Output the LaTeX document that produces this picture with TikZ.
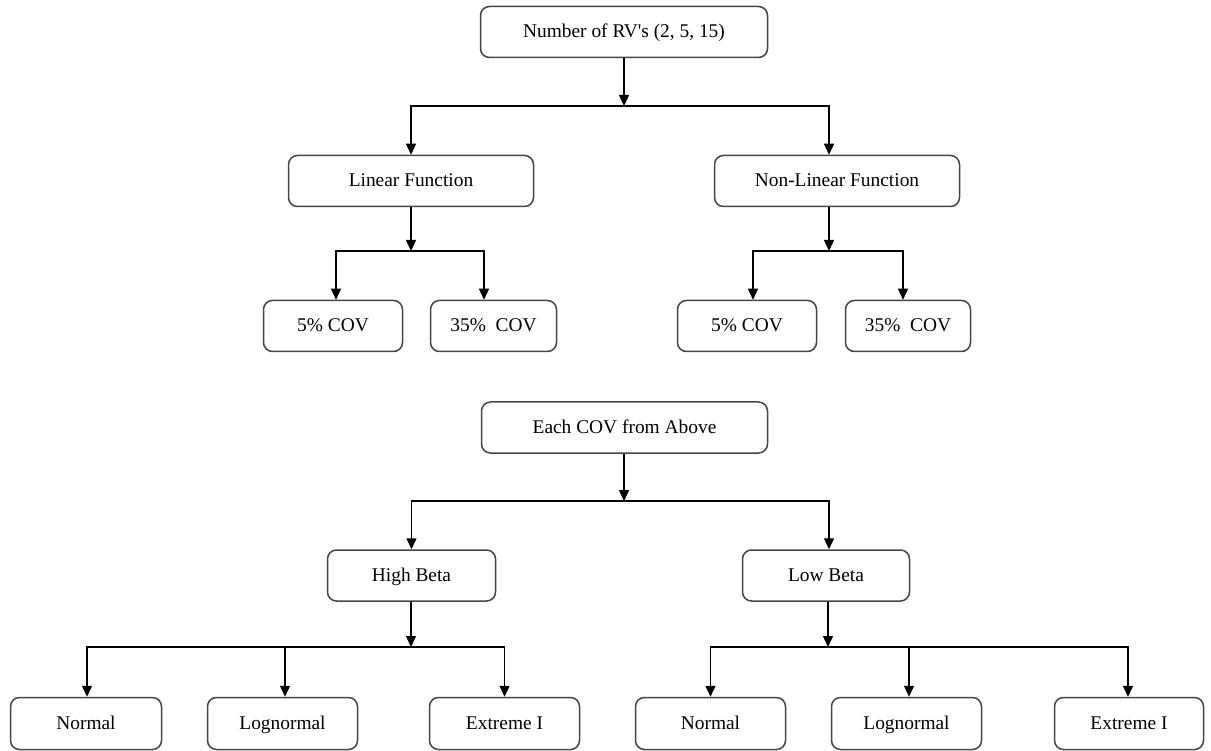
\documentclass[tikz,border=0pt]{standalone}
\usepackage{fontspec}
\setmainfont{Liberation Serif}
\usetikzlibrary{arrows.meta}
\definecolor{boxc}{RGB}{70,70,70}
\begin{document}
\begin{tikzpicture}[x=1pt,y=-1pt,
  box/.style={draw=boxc, line width=1.5pt, rounded corners=9pt, inner sep=0pt,
    minimum height=51pt, text height=13pt, text depth=1pt,
    font=\fontsize{19.4}{23}\selectfont, text=black},
  conn/.style={line width=1.4pt, draw=black},
  arr/.style={conn, -{Triangle[length=11pt,width=10pt]}}]
\useasboundingbox (0,0) rectangle (1211,751);

% level 1
\node[box, minimum width=287pt, minimum height=51pt] (top) at (624,32) {Number of RV\textquotesingle s (2, 5, 15)};
\node[box, minimum width=245pt] (lin) at (411,181) {Linear Function};
\node[box, minimum width=245pt] (nl) at (837,181) {Non-Linear Function};
\node[box, minimum width=139pt] (c1) at (333,326) {5\% COV};
\node[box, minimum width=126pt] (c2) at (493.5,326) {35\%\ \ COV};
\node[box, minimum width=139pt] (c3) at (747,326) {5\% COV};
\node[box, minimum width=125pt] (c4) at (908,326) {35\%\ \ COV};

\coordinate (j1) at (624,106);
\coordinate (j2) at (411,251);
\coordinate (j3) at (829,251);
\draw[arr] (top.south -| j1) -- (j1);
\draw[arr] (j1) -| (lin.north);
\draw[arr] (j1) -| ([xshift=-8pt]nl.north);
\draw[arr] (lin.south -| j2) -- (j2);
\draw[arr] (j2) -| ([xshift=3pt]c1.north);
\draw[arr] (j2) -| ([xshift=-9.5pt]c2.north);
\draw[arr] (nl.south -| j3) -- (j3);
\draw[arr] (j3) -| ([xshift=6pt]c3.north);
\draw[arr] (j3) -| ([xshift=-5pt]c4.north);

% level 2
\node[box, minimum width=286pt] (each) at (624.5,427.5) {Each COV from Above};
\node[box, minimum width=168pt] (hb) at (411.5,575.5) {High Beta};
\node[box, minimum width=167pt] (lb) at (826,575.5) {Low Beta};
\node[box, minimum width=151pt, minimum height=52pt] (n1) at (86,723.5) {Normal};
\node[box, minimum width=150pt, minimum height=52pt] (ln1) at (282.5,723.5) {Lognormal};
\node[box, minimum width=150pt, minimum height=52pt] (ex1) at (504.5,723.5) {Extreme I};
\node[box, minimum width=150pt, minimum height=52pt] (n2) at (710.5,723.5) {Normal};
\node[box, minimum width=150pt, minimum height=52pt] (ln2) at (906.5,723.5) {Lognormal};
\node[box, minimum width=149pt, minimum height=52pt] (ex2) at (1129,723.5) {Extreme I};

\coordinate (j4) at (624,501);
\coordinate (j5) at (411,647);
\coordinate (j6) at (828,647);
\draw[arr] (each.south -| j4) -- (j4);
\draw[arr] (j4) -| (hb.north);
\draw[arr] (j4) -| ([xshift=3pt]lb.north);
\draw[arr] (hb.south -| j5) -- (j5);
\draw[arr] (j5) -| ([xshift=1pt]n1.north);
\draw[arr] (j5) -| ([xshift=2.5pt]ln1.north);
\draw[arr] (j5) -| (ex1.north);
\draw[arr] (lb.south -| j6) -- (j6);
\draw[arr] (j6) -| (n2.north);
\draw[arr] (j6) -| ([xshift=2.5pt]ln2.north);
\draw[arr] (j6) -| ([xshift=-1pt]ex2.north);
\end{tikzpicture}
\end{document}
